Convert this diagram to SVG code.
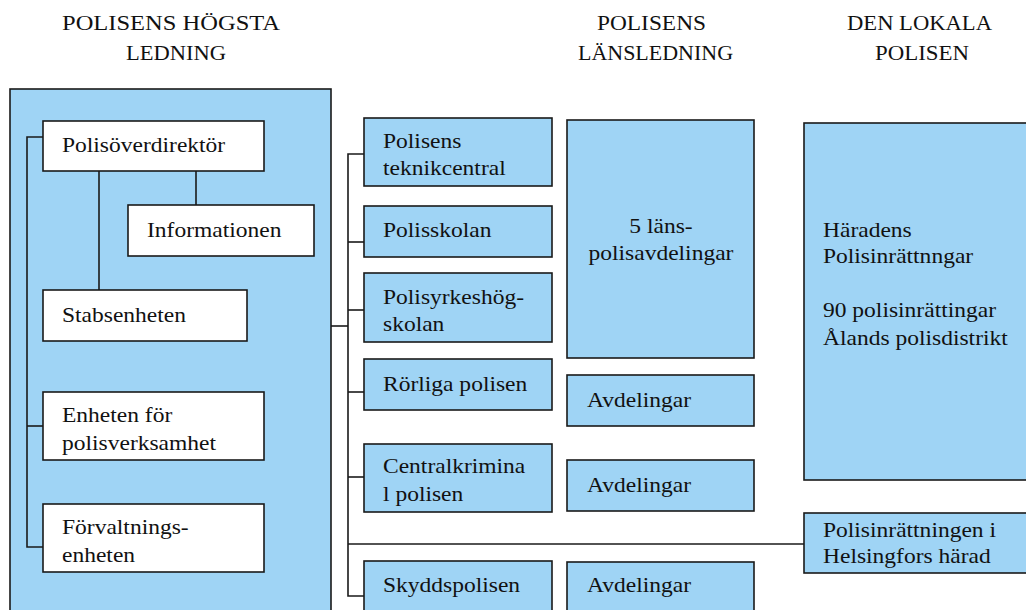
<svg xmlns="http://www.w3.org/2000/svg" width="1026" height="610" viewBox="0 0 1026 610">
<style>
text{font-family:"Liberation Serif","Times New Roman",serif;font-size:21px;fill:#111;transform-box:fill-box;transform-origin:0 0;transform:scaleX(1.12)}
.hd{transform:none}
.m{text-anchor:middle;transform-origin:50% 50%}
.b{fill:#9fd4f5;stroke:#1a1a1a;stroke-width:1.6}
.w{fill:#fff;stroke:#1a1a1a;stroke-width:1.6}
.c{fill:none;stroke:#1a1a1a;stroke-width:1.6}
</style>
<rect width="1026" height="610" fill="#fff"/>
<g id="headers">
<text class="hd" x="62" y="30" textLength="218" lengthAdjust="spacingAndGlyphs">POLISENS HÖGSTA</text>
<text class="hd" x="126" y="60" textLength="100" lengthAdjust="spacingAndGlyphs">LEDNING</text>
<text class="hd" x="597" y="30" textLength="109" lengthAdjust="spacingAndGlyphs">POLISENS</text>
<text class="hd" x="578" y="60" textLength="155" lengthAdjust="spacingAndGlyphs">LÄNSLEDNING</text>
<text class="hd" x="847" y="30" textLength="145" lengthAdjust="spacingAndGlyphs">DEN LOKALA</text>
<text class="hd" x="875" y="60" textLength="94" lengthAdjust="spacingAndGlyphs">POLISEN</text>
</g>
<g id="hogsta"><rect class="b" x="10" y="89" width="321" height="530"/></g>
<g id="connectors">
<polyline class="c" points="43,137 27,137 27,547 43,547"/>
<line class="c" x1="27" y1="426" x2="43" y2="426"/>
<line class="c" x1="99" y1="171" x2="99" y2="290"/>
<line class="c" x1="196" y1="171" x2="196" y2="205"/>
<line class="c" x1="331" y1="326" x2="348" y2="326"/>
<polyline class="c" points="364,154 348,154 348,596 364,596"/>
<line class="c" x1="348" y1="242" x2="364" y2="242"/>
<line class="c" x1="348" y1="310" x2="364" y2="310"/>
<line class="c" x1="348" y1="392" x2="364" y2="392"/>
<line class="c" x1="348" y1="477" x2="364" y2="477"/>
<line class="c" x1="348" y1="544" x2="804" y2="544"/>
</g>
<g id="polisoverdirektor"><rect class="w" x="43" y="121" width="221" height="50"/><text x="62" y="152">Polisöverdirektör</text></g>
<g id="informationen"><rect class="w" x="128" y="205" width="186" height="51"/><text x="147" y="237">Informationen</text></g>
<g id="stabsenheten"><rect class="w" x="43" y="290" width="204" height="51"/><text x="62" y="322">Stabsenheten</text></g>
<g id="enheten"><rect class="w" x="43" y="392" width="221" height="68"/><text x="62" y="422">Enheten för</text><text x="62" y="450">polisverksamhet</text></g>
<g id="forvaltning"><rect class="w" x="43" y="504" width="221" height="68"/><text x="62" y="534">Förvaltnings-</text><text x="62" y="562">enheten</text></g>
<g id="teknikcentral"><rect class="b" x="364" y="118" width="188" height="68"/><text x="383" y="148">Polisens</text><text x="383" y="175">teknikcentral</text></g>
<g id="polisskolan"><rect class="b" x="364" y="206" width="188" height="51"/><text x="383" y="237">Polisskolan</text></g>
<g id="polisyrkes"><rect class="b" x="364" y="273" width="188" height="69"/><text x="383" y="304">Polisyrkeshög-</text><text x="383" y="331">skolan</text></g>
<g id="rorliga"><rect class="b" x="364" y="359" width="188" height="51"/><text x="383" y="391">Rörliga polisen</text></g>
<g id="centralkrim"><rect class="b" x="364" y="444" width="188" height="68"/><text x="383" y="473">Centralkrimina</text><text x="383" y="501">l polisen</text></g>
<g id="skydds"><rect class="b" x="364" y="561" width="188" height="60"/><text x="383" y="592">Skyddspolisen</text></g>
<g id="lans"><rect class="b" x="567" y="120" width="187" height="238"/><text class="m" x="661" y="233">5 läns-</text><text class="m" x="661" y="260">polisavdelingar</text></g>
<g id="avd1"><rect class="b" x="567" y="375" width="187" height="51"/><text x="587" y="407">Avdelingar</text></g>
<g id="avd2"><rect class="b" x="567" y="460" width="187" height="51"/><text x="587" y="492">Avdelingar</text></g>
<g id="avd3"><rect class="b" x="567" y="562" width="187" height="60"/><text x="587" y="592">Avdelingar</text></g>
<g id="haradens"><rect class="b" x="804" y="123" width="230" height="357"/><text x="823" y="237">Häradens</text><text x="823" y="263">Polisinrättnngar</text><text x="823" y="317">90 polisinrättingar</text><text x="823" y="345">Ålands polisdistrikt</text></g>
<g id="helsingfors"><rect class="b" x="804" y="513" width="230" height="60"/><text x="823" y="537">Polisinrättningen i</text><text x="823" y="563">Helsingfors härad</text></g>
</svg>
